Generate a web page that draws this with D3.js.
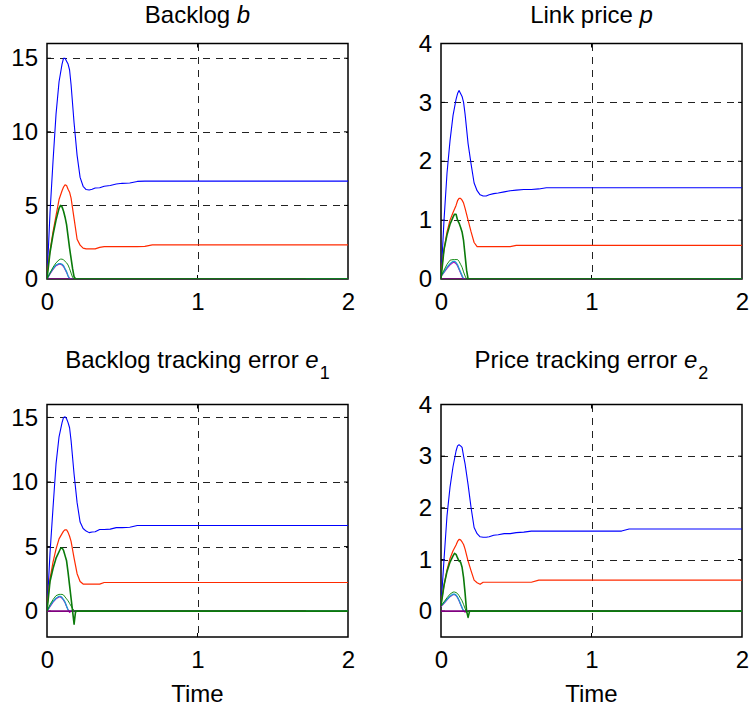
<!DOCTYPE html>
<html>
<head>
<meta charset="utf-8">
<script src="https://cdn.jsdelivr.net/npm/d3@7"></script>
<style>
  html, body { margin: 0; padding: 0; background: #fff; }
  svg { display: block; font-family: "Liberation Sans", Arial, sans-serif; }
</style>
</head>
<body>
<div id="chart"></div>
<script>
// ---------------- DATA ----------------
const xTicks = [0, 1, 2];
const ticksBacklog = [0, 5, 10, 15];
const ticksPrice = [0, 1, 2, 3, 4];
const ticksE1 = [0, 5, 10, 15];
const ticksE2 = [0, 1, 2, 3, 4];

// time samples
const tFull = [0, 0.02, 0.04, 0.06, 0.08, 0.10, 0.11, 0.12, 0.13, 0.14, 0.15, 0.16, 0.18, 0.20, 0.22,
               0.24, 0.26, 0.28, 0.30, 0.32, 0.35, 0.38, 0.42, 0.46, 0.50, 0.55, 0.60, 0.65, 0.70, 0.80,
               1.0, 1.2, 1.25, 1.5, 2.0];
const tFast = [0, 0.02, 0.04, 0.06, 0.08, 0.09, 0.10, 0.11, 0.12, 0.13, 0.14, 0.15, 0.16, 0.17, 0.18, 0.19, 0.20, 2.0];
const tIdle = [0, 1.72];

// Backlog b
const bBlue    = [0, 4.5, 8.0, 11.2, 13.4, 14.6, 15.0, 15.0, 14.8, 14.6, 14.2, 13.2, 10.6, 8.4, 6.9,
                  6.3, 6.08, 6.05, 6.1, 6.18, 6.2, 6.3, 6.35, 6.45, 6.5, 6.52, 6.63, 6.65, 6.65, 6.65,
                  6.65, 6.65, 6.65, 6.65, 6.65];
const bRed     = [0.3, 1.9, 3.2, 4.3, 5.4, 6.0, 6.25, 6.4, 6.35, 6.1, 5.9, 5.5, 4.1, 2.7, 2.3,
                  2.1, 2.05, 2.05, 2.05, 2.05, 2.15, 2.2, 2.2, 2.2, 2.2, 2.2, 2.2, 2.22, 2.32, 2.32,
                  2.32, 2.32, 2.32, 2.32, 2.32];
const bGreen   = [0, 1.8, 3.0, 4.0, 4.8, 5.0, 4.9, 4.6, 4.2, 3.7, 2.9, 2.1, 1.4, 0.7, 0.15, 0, 0, 0];
const bGreen2  = [0, 0.4, 0.8, 1.1, 1.3, 1.35, 1.35, 1.3, 1.2, 1.1, 0.95, 0.7, 0.4, 0.12, 0, 0, 0, 0];
const bCyan    = [0, 0.4, 0.7, 0.95, 1.05, 1.05, 1.0, 0.9, 0.7, 0.5, 0.2, 0, 0, 0, 0, 0, 0, 0];
const bMagenta = [0, 0.35, 0.65, 0.9, 1.0, 1.0, 0.95, 0.85, 0.65, 0.45, 0.2, 0.05, 0, 0, 0, 0, 0, 0];
const bPurple  = [0, 0];

// Link price p
const pBlue    = [0, 1.0, 1.8, 2.35, 2.78, 3.05, 3.15, 3.2, 3.15, 3.1, 3.0, 2.8, 2.3, 1.95, 1.63,
                  1.5, 1.43, 1.41, 1.41, 1.43, 1.45, 1.46, 1.48, 1.5, 1.51, 1.52, 1.52, 1.53, 1.55, 1.55,
                  1.55, 1.55, 1.55, 1.55, 1.55];
const pRed     = [0.1, 0.5, 0.8, 1.0, 1.13, 1.25, 1.33, 1.37, 1.37, 1.34, 1.29, 1.2, 1.0, 0.8, 0.62,
                  0.55, 0.55, 0.55, 0.55, 0.55, 0.55, 0.55, 0.55, 0.55, 0.57, 0.57, 0.57, 0.57, 0.57, 0.57,
                  0.57, 0.57, 0.57, 0.57, 0.57];
const pGreen   = [0, 0.5, 0.75, 0.93, 1.05, 1.1, 1.1, 1.0, 0.95, 0.88, 0.8, 0.65, 0.4, 0.15, 0, 0, 0, 0];
const pGreen2  = [0.05, 0.15, 0.25, 0.32, 0.33, 0.33, 0.33, 0.33, 0.3, 0.25, 0.2, 0.12, 0.05, 0, 0, 0, 0, 0];
const pCyan    = [0.05, 0.12, 0.2, 0.26, 0.3, 0.3, 0.28, 0.24, 0.18, 0.12, 0.06, 0, 0, 0, 0, 0, 0, 0];
const pMagenta = [0.04, 0.11, 0.18, 0.24, 0.28, 0.28, 0.26, 0.22, 0.16, 0.1, 0.04, 0, 0, 0, 0, 0, 0, 0];
const pPurple  = [0, 0];

// Backlog tracking error e1
const e1Blue    = [0, 4.5, 8.0, 11.4, 13.5, 14.6, 15.0, 15.05, 14.9, 14.6, 14.2, 13.2, 10.6, 8.4, 6.9,
                   6.4, 6.2, 6.08, 6.13, 6.15, 6.32, 6.32, 6.35, 6.47, 6.47, 6.5, 6.63, 6.63, 6.63, 6.63,
                   6.63, 6.63, 6.63, 6.63, 6.63];
const e1Red     = [0.3, 2.5, 3.8, 4.8, 5.6, 6.0, 6.2, 6.3, 6.3, 6.1, 5.8, 5.4, 4.1, 2.9, 2.3,
                   2.1, 2.09, 2.09, 2.09, 2.09, 2.09, 2.22, 2.22, 2.22, 2.22, 2.22, 2.22, 2.22, 2.22, 2.22,
                   2.22, 2.22, 2.22, 2.22, 2.22];
const e1Green   = [0, 2.3, 3.3, 4.1, 4.6, 4.85, 4.9, 4.7, 4.3, 3.9, 3.0, 2.0, 1.0, 0, -1.0, 0, 0, 0];
const e1Green2  = [0, 0.5, 0.9, 1.2, 1.3, 1.3, 1.3, 1.25, 1.1, 0.95, 0.8, 0.6, 0.4, 0.2, 0.05, -0.1, 0, 0];
const e1Cyan    = [0, 0.4, 0.75, 1.0, 1.15, 1.15, 1.05, 0.9, 0.7, 0.4, 0.1, 0, 0, 0, 0, 0, 0, 0];
const e1Magenta = [0, 0.35, 0.7, 0.95, 1.1, 1.1, 1.0, 0.85, 0.65, 0.35, 0.1, -0.1, 0, 0, 0, 0, 0, 0];
const e1Purple  = [0, 0];

// Price tracking error e2
const e2Blue    = [0.1, 1.0, 1.85, 2.4, 2.8, 3.1, 3.2, 3.22, 3.2, 3.17, 3.0, 2.85, 2.45, 2.0, 1.62,
                   1.5, 1.44, 1.43, 1.43, 1.44, 1.47, 1.48, 1.5, 1.5, 1.52, 1.53, 1.55, 1.55, 1.55, 1.55,
                   1.55, 1.55, 1.59, 1.59, 1.59];
const e2Red     = [0.15, 0.5, 0.8, 1.02, 1.17, 1.28, 1.35, 1.39, 1.38, 1.34, 1.29, 1.2, 0.97, 0.78, 0.6,
                   0.55, 0.52, 0.56, 0.56, 0.56, 0.56, 0.56, 0.56, 0.56, 0.56, 0.56, 0.56, 0.6, 0.6, 0.6,
                   0.6, 0.6, 0.6, 0.6, 0.6];
const e2Green   = [0.1, 0.5, 0.77, 0.95, 1.07, 1.12, 1.1, 1.03, 0.97, 0.95, 0.85, 0.65, 0.35, 0.0, -0.12, 0, 0, 0];
const e2Green2  = [0.1, 0.18, 0.26, 0.33, 0.37, 0.37, 0.36, 0.34, 0.3, 0.25, 0.2, 0.13, 0.05, -0.02, 0, 0, 0, 0];
const e2Cyan    = [0.1, 0.16, 0.23, 0.29, 0.33, 0.33, 0.31, 0.27, 0.21, 0.14, 0.07, 0, 0, 0, 0, 0, 0, 0];
const e2Magenta = [0.09, 0.15, 0.22, 0.28, 0.32, 0.32, 0.3, 0.26, 0.2, 0.13, 0.06, 0, -0.02, 0, 0, 0, 0, 0];
const e2Purple  = [0, 0];

// ---------------- CHART ----------------
const W = 752, H = 715;
const FONT = 24;

const styles = {
  blue:    { color: "#0000ff", width: 1.1 },
  red:     { color: "#ff2a00", width: 1.2 },
  magenta: { color: "#bf00bf", width: 1.1 },
  cyan:    { color: "#1a9fd0", width: 1.3 },
  purple:  { color: "#800080", width: 1.6 },
  green2:  { color: "#008000", width: 0.9 },
  green:   { color: "#0a7a0a", width: 1.6 }
};

function seriesSet(blue, red, green, green2, cyan, magenta, purple) {
  return [
    { key: "blue", t: tFull, v: blue },
    { key: "red", t: tFull, v: red },
    { key: "magenta", t: tFast, v: magenta },
    { key: "cyan", t: tFast, v: cyan },
    { key: "purple", t: tIdle, v: purple },
    { key: "green2", t: tFast, v: green2 },
    { key: "green", t: tFast, v: green }
  ];
}

const panels = [
  { title: [["Backlog ", false, false], ["b", true, false]],
    box: [47, 348, 43.5, 279], yDomain: [0, 16], yTicks: ticksBacklog, xlabel: false,
    series: seriesSet(bBlue, bRed, bGreen, bGreen2, bCyan, bMagenta, bPurple) },
  { title: [["Link price ", false, false], ["p", true, false]],
    box: [441, 742, 43.5, 279], yDomain: [0, 4], yTicks: ticksPrice, xlabel: false,
    series: seriesSet(pBlue, pRed, pGreen, pGreen2, pCyan, pMagenta, pPurple) },
  { title: [["Backlog tracking error ", false, false], ["e", true, false], ["1", false, true]],
    box: [47, 348, 404.5, 637], yDomain: [-2, 16], yTicks: ticksE1, xlabel: true,
    series: seriesSet(e1Blue, e1Red, e1Green, e1Green2, e1Cyan, e1Magenta, e1Purple) },
  { title: [["Price tracking error ", false, false], ["e", true, false], ["2", false, true]],
    box: [441, 742, 404.5, 637], yDomain: [-0.5, 4], yTicks: ticksE2, xlabel: true,
    series: seriesSet(e2Blue, e2Red, e2Green, e2Green2, e2Cyan, e2Magenta, e2Purple) }
];

const svg = d3.select("#chart").append("svg")
  .attr("width", W).attr("height", H)
  .attr("viewBox", `0 0 ${W} ${H}`);

panels.forEach((p, i) => {
  const [x0, x1, y0, y1] = p.box;
  const x = d3.scaleLinear().domain([0, 2]).range([x0, x1]);
  const y = d3.scaleLinear().domain(p.yDomain).range([y1, y0]);
  const g = svg.append("g");

  // clip
  const clipId = "clip" + i;
  svg.append("defs").append("clipPath").attr("id", clipId)
    .append("rect").attr("x", x0).attr("y", y0).attr("width", x1 - x0).attr("height", y1 - y0);

  // grid
  const grid = g.append("g").attr("stroke", "#222").attr("stroke-width", 1)
    .attr("stroke-dasharray", "7,6").attr("shape-rendering", "crispEdges");
  grid.selectAll("line.h").data(p.yTicks.filter(v => v > p.yDomain[0] && v < p.yDomain[1]))
    .join("line").attr("class", "h")
    .attr("x1", x0).attr("x2", x1)
    .attr("y1", d => Math.round(y(d)) + 0.5).attr("y2", d => Math.round(y(d)) + 0.5);
  grid.selectAll("line.v").data(xTicks.filter(v => v > 0 && v < 2))
    .join("line").attr("class", "v")
    .attr("y1", y0).attr("y2", y1)
    .attr("x1", d => Math.round(x(d)) + 0.5).attr("x2", d => Math.round(x(d)) + 0.5);

  // box
  g.append("rect").attr("x", x0).attr("y", y0).attr("width", x1 - x0).attr("height", y1 - y0)
    .attr("fill", "none").attr("stroke", "#000").attr("stroke-width", 1.5);

  // inward ticks
  const tk = g.append("g").attr("stroke", "#000").attr("stroke-width", 1);
  p.yTicks.filter(v => v > p.yDomain[0] && v < p.yDomain[1]).forEach(v => {
    tk.append("line").attr("x1", x0).attr("x2", x0 + 4).attr("y1", y(v)).attr("y2", y(v));
    tk.append("line").attr("x1", x1).attr("x2", x1 - 4).attr("y1", y(v)).attr("y2", y(v));
  });
  xTicks.filter(v => v > 0 && v < 2).forEach(v => {
    tk.append("line").attr("x1", x(v)).attr("x2", x(v)).attr("y1", y1).attr("y2", y1 - 4);
    tk.append("line").attr("x1", x(v)).attr("x2", x(v)).attr("y1", y0).attr("y2", y0 + 4);
  });

  // axes labels
  const ay = g.append("g").attr("transform", `translate(${x0},0)`)
    .call(d3.axisLeft(y).tickValues(p.yTicks).tickSize(0).tickPadding(9).tickFormat(d3.format("d")));
  const ax = g.append("g").attr("transform", `translate(0,${y1})`)
    .call(d3.axisBottom(x).tickValues(xTicks).tickSize(0).tickPadding(14).tickFormat(d3.format("d")));
  [ay, ax].forEach(a => {
    a.select(".domain").remove();
    a.attr("font-family", null).attr("font-size", null);
    a.selectAll("text").attr("font-size", FONT).attr("fill", "#000")
      .attr("font-family", "'Liberation Sans', Arial, sans-serif");
  });

  // data lines
  const line = d3.line().x(d => x(d[0])).y(d => y(d[1]));
  const dg = g.append("g").attr("clip-path", `url(#${clipId})`);
  p.series.forEach(s => {
    const pts = s.t.map((t, k) => [t, s.v[k]]);
    dg.append("path").datum(pts)
      .attr("d", line)
      .attr("fill", "none")
      .attr("stroke", styles[s.key].color)
      .attr("stroke-width", styles[s.key].width)
      .attr("stroke-linejoin", "round");
  });

  // title
  const cx = (x0 + x1) / 2;
  const ty = i < 2 ? 23 : 368;
  const title = g.append("text").attr("x", cx).attr("y", ty)
    .attr("text-anchor", "middle").attr("font-size", FONT).attr("fill", "#000");
  p.title.forEach(([txt, ital, sub]) => {
    const ts = title.append("tspan").text(txt);
    if (ital) ts.attr("font-style", "italic");
    if (sub) ts.attr("font-size", 18).attr("dy", 11).attr("dx", 1);
  });

  if (p.xlabel) {
    g.append("text").attr("x", cx).attr("y", 702).attr("text-anchor", "middle")
      .attr("font-size", FONT).attr("fill", "#000").text("Time");
  }
});
</script>
</body>
</html>
